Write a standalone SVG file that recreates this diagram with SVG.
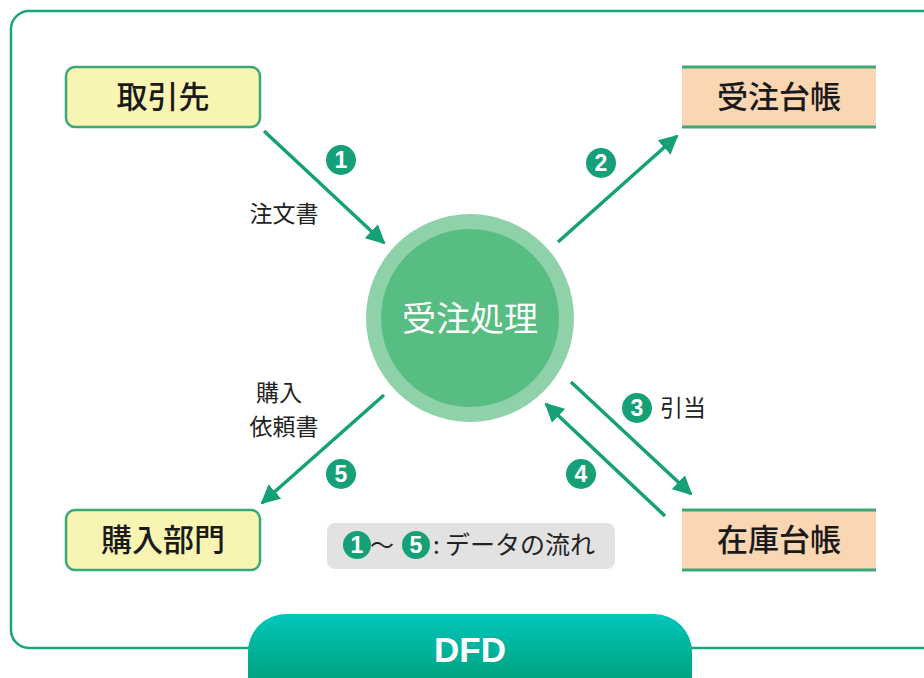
<svg xmlns="http://www.w3.org/2000/svg" width="924" height="678" viewBox="0 0 924 678">
<defs>
<style>
.jp{font-family:"Noto Sans CJK JP","Noto Sans",sans-serif;}
.node text{font-size:31px;font-weight:500;fill:#1a1a1a;text-anchor:middle;}
.ent{fill:#f8f4b2;stroke:#3aa877;stroke-width:2.5;}
.store{fill:#fbd6b2;}
.sline{stroke:#3aa877;stroke-width:3;}
.flow{stroke:#16a077;stroke-width:3.5;fill:none;marker-end:url(#ah);}
.badge circle{fill:#16a077;}
.badge text{fill:#fff;font-family:"Liberation Sans",Arial,sans-serif;font-weight:bold;font-size:23px;text-anchor:middle;}
.lbl{font-size:23px;fill:#222;}
</style>
<marker id="ah" viewBox="0 0 10 10" refX="9" refY="5" markerWidth="5.5" markerHeight="5.5" orient="auto" markerUnits="strokeWidth">
<path d="M0,0 L10,5 L0,10 z" fill="#16a077"/>
</marker>
<linearGradient id="pill" x1="0" y1="0" x2="0" y2="1">
<stop offset="0" stop-color="#00c6bb"/>
<stop offset="0.7" stop-color="#00a07c"/>
</linearGradient>
</defs>
<rect width="924" height="678" fill="#fff"/>
<rect x="11" y="11" width="930" height="637" rx="18" fill="none" stroke="#1aa57a" stroke-width="2.5"/>

<g id="connectors">
<line class="flow" x1="264" y1="131" x2="384" y2="243"/>
<line class="flow" x1="558" y1="242" x2="677" y2="136"/>
<line class="flow" x1="571" y1="382" x2="691" y2="494"/>
<line class="flow" x1="665" y1="516" x2="546" y2="404"/>
<line class="flow" x1="384" y1="395" x2="262" y2="503"/>
</g>

<g id="n-torihikisaki" class="node jp">
<rect class="ent" x="66" y="67" width="194" height="60" rx="9"/>
<text x="163" y="108">取引先</text>
</g>
<g id="n-juchudaicho" class="node jp">
<rect class="store" x="682" y="67" width="194" height="60"/>
<line class="sline" x1="682" y1="67" x2="876" y2="67"/>
<line class="sline" x1="682" y1="127" x2="876" y2="127"/>
<text x="779" y="108">受注台帳</text>
</g>
<g id="n-konyubumon" class="node jp">
<rect class="ent" x="66" y="510" width="194" height="60" rx="9"/>
<text x="163" y="551">購入部門</text>
</g>
<g id="n-zaikodaicho" class="node jp">
<rect class="store" x="682" y="510" width="194" height="60"/>
<line class="sline" x1="682" y1="510" x2="876" y2="510"/>
<line class="sline" x1="682" y1="570" x2="876" y2="570"/>
<text x="779" y="551">在庫台帳</text>
</g>
<g id="n-juchushori" class="jp">
<circle cx="470" cy="318" r="104" fill="#8fd2aa"/>
<circle cx="470" cy="318" r="89" fill="#58bd82"/>
<text x="470" y="331" font-size="34" fill="#fff" text-anchor="middle">受注処理</text>
</g>

<g id="labels">
<g class="badge"><circle cx="341" cy="160" r="15"/><text x="341" y="168">1</text></g>
<g class="badge"><circle cx="601" cy="163" r="15"/><text x="601" y="171">2</text></g>
<g class="badge"><circle cx="637" cy="408" r="15"/><text x="637" y="416">3</text></g>
<g class="badge"><circle cx="581" cy="474" r="15"/><text x="581" y="482">4</text></g>
<g class="badge"><circle cx="341" cy="474" r="15"/><text x="341" y="482">5</text></g>
<text class="jp lbl" x="284" y="222" text-anchor="middle">注文書</text>
<text class="jp lbl" x="279" y="401" text-anchor="middle">購入</text>
<text class="jp lbl" x="284" y="435" text-anchor="middle">依頼書</text>
<text class="jp lbl" x="660" y="416" font-size="24">引当</text>
</g>

<g id="legend">
<rect x="327" y="523" width="288" height="46" rx="8" fill="#e2e2e2"/>
<g class="badge"><circle cx="357" cy="545" r="14"/><text x="357" y="553">1</text></g>
<text class="jp" x="370" y="554" font-size="24" fill="#222">～</text>
<g class="badge"><circle cx="416" cy="545" r="14"/><text x="416" y="553">5</text></g>
<text class="jp" x="433" y="554" font-size="24" fill="#222">:</text>
<text class="jp" x="445" y="554" font-size="25" fill="#222">データの流れ</text>
</g>

<g id="title">
<rect x="248" y="614" width="444" height="100" rx="38" fill="url(#pill)"/>
<text x="470" y="662" font-family="'Liberation Sans',Arial,sans-serif" font-weight="bold" font-size="35" fill="#fff" text-anchor="middle">DFD</text>
</g>
</svg>
